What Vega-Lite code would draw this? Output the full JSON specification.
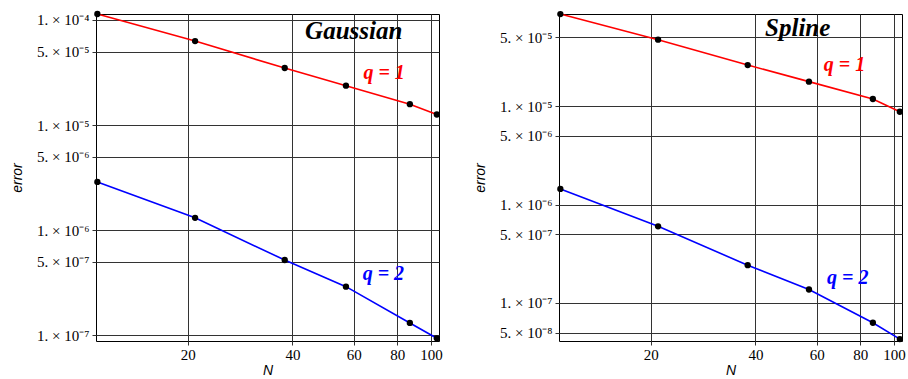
{
  "$schema": "https://vega.github.io/schema/vega-lite/v6.json",
  "padding": {"left": 10, "top": 10, "right": 0, "bottom": 0},
  "spacing": 30,
  "datasets": {
    "errors": [
      {"method": "Gaussian", "q": "1", "N": 11, "error": 1.14e-4},
      {"method": "Gaussian", "q": "1", "N": 21, "error": 6.3e-5},
      {"method": "Gaussian", "q": "1", "N": 38, "error": 3.49e-5},
      {"method": "Gaussian", "q": "1", "N": 57, "error": 2.37e-5},
      {"method": "Gaussian", "q": "1", "N": 87, "error": 1.58e-5},
      {"method": "Gaussian", "q": "1", "N": 104, "error": 1.26e-5},
      {"method": "Gaussian", "q": "2", "N": 11, "error": 2.88e-6},
      {"method": "Gaussian", "q": "2", "N": 21, "error": 1.31e-6},
      {"method": "Gaussian", "q": "2", "N": 38, "error": 5.2e-7},
      {"method": "Gaussian", "q": "2", "N": 57, "error": 2.9e-7},
      {"method": "Gaussian", "q": "2", "N": 87, "error": 1.31e-7},
      {"method": "Gaussian", "q": "2", "N": 104, "error": 9.36e-8},
      {"method": "Spline", "q": "1", "N": 11, "error": 8.6e-5},
      {"method": "Spline", "q": "1", "N": 21, "error": 4.72e-5},
      {"method": "Spline", "q": "1", "N": 38, "error": 2.61e-5},
      {"method": "Spline", "q": "1", "N": 57, "error": 1.77e-5},
      {"method": "Spline", "q": "1", "N": 87, "error": 1.18e-5},
      {"method": "Spline", "q": "1", "N": 104, "error": 8.75e-6},
      {"method": "Spline", "q": "2", "N": 11, "error": 1.44e-6},
      {"method": "Spline", "q": "2", "N": 21, "error": 6.0e-7},
      {"method": "Spline", "q": "2", "N": 38, "error": 2.42e-7},
      {"method": "Spline", "q": "2", "N": 57, "error": 1.37e-7},
      {"method": "Spline", "q": "2", "N": 87, "error": 6.3e-8},
      {"method": "Spline", "q": "2", "N": 104, "error": 4.3e-8}
    ],
    "notes": [
      {"method": "Gaussian", "kind": "title", "N": 60, "error": 6.6e-5, "label": "Gaussian"},
      {"method": "Gaussian", "kind": "1", "N": 73.4, "error": 2.74e-5, "label": "q = 1"},
      {"method": "Gaussian", "kind": "2", "N": 73, "error": 3.36e-7, "label": "q = 2"},
      {"method": "Spline", "kind": "title", "N": 52.9, "error": 5.14e-5, "label": "Spline"},
      {"method": "Spline", "kind": "1", "N": 72.1, "error": 2.27e-5, "label": "q = 1"},
      {"method": "Spline", "kind": "2", "N": 73.7, "error": 1.55e-7, "label": "q = 2"}
    ]
  },
  "config": {
    "view": {"stroke": "#000", "strokeWidth": 1},
    "axis": {
      "grid": true,
      "gridColor": "#333",
      "gridWidth": 1,
      "gridOpacity": 1,
      "tickColor": "#333",
      "tickSize": 4,
      "domain": false,
      "labelFont": "Liberation Serif",
      "labelFontSize": 15,
      "labelColor": "#000",
      "titleFont": "Liberation Sans",
      "titleFontStyle": "italic",
      "titleFontWeight": "normal",
      "titleFontSize": 14,
      "titleColor": "#000"
    }
  },
  "hconcat": [
    {
      "width": 343,
      "height": 327,
      "layer": [
        {
          "data": {"name": "errors"},
          "transform": [{"filter": "datum.method === 'Gaussian'"}],
          "mark": {"type": "line", "strokeWidth": 1.6},
          "encoding": {
            "x": {"field": "N", "type": "quantitative", "title": "N",
              "scale": {"type": "log", "domain": [10.9, 105.5], "nice": false, "zero": false},
              "axis": {"values": [20, 40, 60, 80, 100], "labelPadding": 2, "titlePadding": 1}},
            "y": {"field": "error", "type": "quantitative", "title": "error",
              "scale": {"type": "log", "domain": [8.82e-8, 1.14e-4], "nice": false},
              "axis": {"values": [1e-4, 5e-5, 1e-5, 5e-6, 1e-6, 5e-7, 1e-7], "labelPadding": 3, "titlePadding": 12,
                "labelExpr": "format(round(datum.value / pow(10, floor(log(datum.value) / LN10 + 1e-6))), 'd') + '. × 10⁻' + substring('⁰¹²³⁴⁵⁶⁷⁸⁹', -floor(log(datum.value) / LN10 + 1e-6), -floor(log(datum.value) / LN10 + 1e-6) + 1)"}},
            "color": {"field": "q", "type": "nominal", "scale": {"domain": ["1", "2"], "range": ["#ff0000", "#0000ff"]}, "legend": null},
            "order": {"field": "N"}
          }
        },
        {
          "data": {"name": "errors"},
          "transform": [{"filter": "datum.method === 'Gaussian'"}],
          "mark": {"type": "point", "filled": true, "color": "#000", "opacity": 1, "size": 40},
          "encoding": {
            "x": {"field": "N", "type": "quantitative"},
            "y": {"field": "error", "type": "quantitative"}
          }
        },
        {
          "data": {"name": "notes"},
          "transform": [{"filter": "datum.method === 'Gaussian'"}],
          "mark": {"type": "text", "font": "Liberation Serif", "fontStyle": "italic", "fontWeight": "bold", "align": "center", "baseline": "alphabetic"},
          "encoding": {
            "x": {"field": "N", "type": "quantitative"},
            "y": {"field": "error", "type": "quantitative"},
            "text": {"field": "label"},
            "size": {"condition": {"test": "datum.kind === 'title'", "value": 25}, "value": 20},
            "color": {"field": "kind", "type": "nominal", "scale": {"domain": ["title", "1", "2"], "range": ["#000000", "#ff0000", "#0000ff"]}, "legend": null}
          }
        }
      ],
      "resolve": {"scale": {"color": "independent"}}
    },
    {
      "width": 343,
      "height": 327,
      "layer": [
        {
          "data": {"name": "errors"},
          "transform": [{"filter": "datum.method === 'Spline'"}],
          "mark": {"type": "line", "strokeWidth": 1.6},
          "encoding": {
            "x": {"field": "N", "type": "quantitative", "title": "N",
              "scale": {"type": "log", "domain": [10.9, 105.5], "nice": false, "zero": false},
              "axis": {"values": [20, 40, 60, 80, 100], "labelPadding": 2, "titlePadding": 1}},
            "y": {"field": "error", "type": "quantitative", "title": "error",
              "scale": {"type": "log", "domain": [4.11e-8, 8.61e-5], "nice": false},
              "axis": {"values": [5e-5, 1e-5, 5e-6, 1e-6, 5e-7, 1e-7, 5e-8], "labelPadding": 3, "titlePadding": 12,
                "labelExpr": "format(round(datum.value / pow(10, floor(log(datum.value) / LN10 + 1e-6))), 'd') + '. × 10⁻' + substring('⁰¹²³⁴⁵⁶⁷⁸⁹', -floor(log(datum.value) / LN10 + 1e-6), -floor(log(datum.value) / LN10 + 1e-6) + 1)"}},
            "color": {"field": "q", "type": "nominal", "scale": {"domain": ["1", "2"], "range": ["#ff0000", "#0000ff"]}, "legend": null},
            "order": {"field": "N"}
          }
        },
        {
          "data": {"name": "errors"},
          "transform": [{"filter": "datum.method === 'Spline'"}],
          "mark": {"type": "point", "filled": true, "color": "#000", "opacity": 1, "size": 40},
          "encoding": {
            "x": {"field": "N", "type": "quantitative"},
            "y": {"field": "error", "type": "quantitative"}
          }
        },
        {
          "data": {"name": "notes"},
          "transform": [{"filter": "datum.method === 'Spline'"}],
          "mark": {"type": "text", "font": "Liberation Serif", "fontStyle": "italic", "fontWeight": "bold", "align": "center", "baseline": "alphabetic"},
          "encoding": {
            "x": {"field": "N", "type": "quantitative"},
            "y": {"field": "error", "type": "quantitative"},
            "text": {"field": "label"},
            "size": {"condition": {"test": "datum.kind === 'title'", "value": 25}, "value": 20},
            "color": {"field": "kind", "type": "nominal", "scale": {"domain": ["title", "1", "2"], "range": ["#000000", "#ff0000", "#0000ff"]}, "legend": null}
          }
        }
      ],
      "resolve": {"scale": {"color": "independent"}}
    }
  ]
}
